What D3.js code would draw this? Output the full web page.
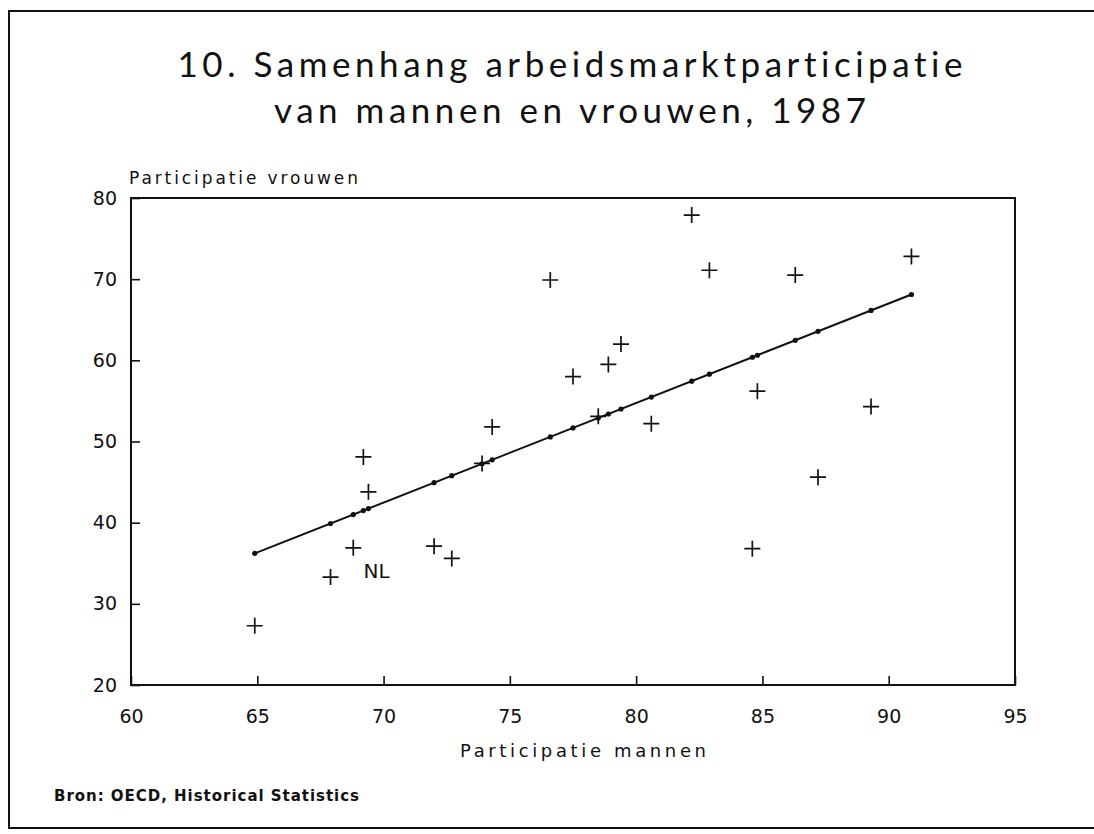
<!DOCTYPE html>
<html>
<head>
<meta charset="utf-8">
<script src="https://cdn.jsdelivr.net/npm/d3@7"></script>
<style>
  body { margin: 0; background: #fff; overflow: hidden; }
  svg { display: block; }
  text { font-variant-ligatures: none; }
  .tick text { font-family: "DejaVu Sans", sans-serif; font-size: 19px; fill: #111; }
</style>
</head>
<body>
<svg class="mainSvg"></svg>
<script>
(function () {
  // ===========================================================================
  //     data area
  // ===========================================================================
  // participatie mannen (x) / vrouwen (y), one entry per country
  const menRate = [64.9, 67.9, 68.8, 69.2, 69.4, 72.0, 72.7, 73.9, 74.3, 76.6, 77.5, 78.5,
    78.9, 79.4, 80.6, 82.2, 82.9, 84.6, 84.8, 86.3, 87.2, 89.3, 90.9];
  const womenRate = [27.3, 33.3, 36.9, 48.1, 43.8, 37.1, 35.6, 47.3, 51.8, 69.9, 58.0, 53.1,
    59.5, 62.0, 52.2, 77.9, 71.1, 36.8, 56.2, 70.5, 45.6, 54.3, 72.8];
  const pointLabels = [{ index: 1, text: 'NL' }];

  const xTicks = [60, 65, 70, 75, 80, 85, 90, 95];
  const yTicks = [20, 30, 40, 50, 60, 70, 80];

  const titleLines = ['10. Samenhang arbeidsmarktparticipatie', 'van mannen en vrouwen, 1987'];
  const yTitle = 'Participatie vrouwen';
  const xTitle = 'Participatie mannen';
  const source = 'Bron: OECD, Historical Statistics';

  // ===========================================================================
  //     layout
  // ===========================================================================
  const initWidth = 1094;
  const initHeight = 834;
  const plot = { left: 131, right: 1015, top: 198, bottom: 685 };
  const crossSize = 8;

  const svg = d3.select('.mainSvg')
    .attr('width', initWidth)
    .attr('height', initHeight);

  // outer frame: left, top and bottom edges (right side runs off the page)
  svg.append('path')
    .attr('d', `M${initWidth} 11H9V828H${initWidth}`)
    .attr('fill', 'none').attr('stroke', '#111').attr('stroke-width', 2);

  // titles
  svg.append('g')
    .selectAll('text')
    .data(titleLines)
    .enter()
    .append('text')
    .attr('x', 570)
    .attr('y', (d, i) => 77 + i * 46)
    .attr('text-anchor', 'middle')
    .attr('textLength', (d, i) => (i === 0 ? 785 : 592))
    .attr('font-family', 'Lato, "DejaVu Sans", sans-serif')
    .attr('font-weight', 400)
    .attr('font-size', 35)
    .attr('fill', '#111')
    .text(d => d);

  const x = d3.scaleLinear().domain([60, 95]).range([plot.left, plot.right]);
  const y = d3.scaleLinear().domain([20, 80]).range([plot.bottom, plot.top]);

  // axes, ticks pointing inwards
  svg.append('g')
    .attr('transform', `translate(0,${plot.bottom})`)
    .call(d3.axisBottom(x).tickValues(xTicks).tickSize(-9).tickPadding(25).tickFormat(d3.format('d')))
    .call(g => g.select('.domain').remove())
    .call(g => g.selectAll('.tick line').attr('stroke', '#111').attr('stroke-width', 1.6));

  svg.append('g')
    .attr('transform', `translate(${plot.left},0)`)
    .call(d3.axisLeft(y).tickValues(yTicks).tickSize(-9).tickPadding(14).tickFormat(d3.format('d')))
    .call(g => g.select('.domain').remove())
    .call(g => g.selectAll('.tick line').attr('stroke', '#111').attr('stroke-width', 1.6));

  svg.append('rect')
    .attr('x', plot.left).attr('y', plot.top)
    .attr('width', plot.right - plot.left).attr('height', plot.bottom - plot.top)
    .attr('fill', 'none').attr('stroke', '#111').attr('stroke-width', 2);

  // axis titles
  svg.append('text')
    .attr('x', 129).attr('y', 184)
    .attr('textLength', 229)
    .attr('font-family', '"DejaVu Sans", sans-serif')
    .attr('font-size', 17)
    .attr('fill', '#111')
    .text(yTitle);

  svg.append('text')
    .attr('x', 583).attr('y', 757)
    .attr('text-anchor', 'middle')
    .attr('textLength', 246)
    .attr('font-family', '"DejaVu Sans", sans-serif')
    .attr('font-size', 18)
    .attr('fill', '#111')
    .text(xTitle);

  svg.append('text')
    .attr('x', 54).attr('y', 801)
    .attr('textLength', 305)
    .attr('font-family', '"DejaVu Sans", sans-serif')
    .attr('font-weight', 'bold')
    .attr('font-size', 15)
    .attr('fill', '#111')
    .text(source);

  // ===========================================================================
  //     regression line (least squares through the points)
  // ===========================================================================
  const points = menRate.map((m, i) => ({ m, w: womenRate[i] }));
  const mx = d3.mean(points, d => d.m);
  const my = d3.mean(points, d => d.w);
  const slope = d3.sum(points, d => (d.m - mx) * (d.w - my)) / d3.sum(points, d => (d.m - mx) ** 2);
  const fit = v => my + slope * (v - mx);
  const fitPoints = points.map(d => d.m).sort((a, b) => a - b);

  svg.append('path')
    .attr('d', d3.line().x(d => x(d)).y(d => y(fit(d)))([fitPoints[0], fitPoints[fitPoints.length - 1]]))
    .attr('fill', 'none')
    .attr('stroke', '#111')
    .attr('stroke-width', 2);

  svg.append('g')
    .selectAll('circle')
    .data(fitPoints)
    .enter()
    .append('circle')
    .attr('cx', d => x(d))
    .attr('cy', d => y(fit(d)))
    .attr('r', 2.6)
    .attr('fill', '#111');

  // ===========================================================================
  //     crosses
  // ===========================================================================
  svg.append('g')
    .selectAll('path')
    .data(points)
    .enter()
    .append('path')
    .attr('d', function (d) {
      const cx = x(d.m);
      const cy = y(d.w);
      return `M${cx - crossSize} ${cy}H${cx + crossSize}M${cx} ${cy - crossSize}V${cy + crossSize}`;
    })
    .attr('stroke', '#111')
    .attr('stroke-width', 1.7)
    .attr('fill', 'none');

  svg.append('g')
    .selectAll('text')
    .data(pointLabels)
    .enter()
    .append('text')
    .attr('x', d => x(menRate[d.index]) + 33)
    .attr('y', d => y(womenRate[d.index]) + 1)
    .attr('font-family', '"DejaVu Sans", sans-serif')
    .attr('font-size', 20)
    .attr('fill', '#111')
    .text(d => d.text);
})();
</script>
</body>
</html>
